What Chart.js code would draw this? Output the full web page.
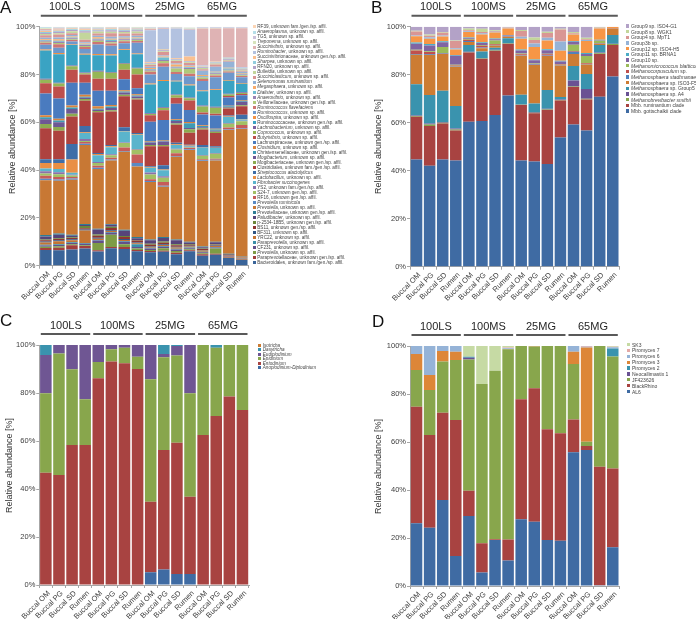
<!DOCTYPE html>
<html><head><meta charset="utf-8">
<script src="https://cdn.jsdelivr.net/npm/chart.js@4.4.1/dist/chart.umd.min.js"></script>
<style>
html,body{margin:0;padding:0;background:#fff;width:696px;height:619px;overflow:hidden;font-family:"Liberation Sans",Arial,sans-serif;position:relative;}
canvas{position:absolute;left:0;top:0;pointer-events:none;}
.t{position:absolute;white-space:nowrap;color:#222;}
.li{position:absolute;white-space:nowrap;color:#444;}
</style></head><body>
<script>
// ---------- shared categories ----------
const sampleLabels = ['Buccal OM','Buccal PG','Buccal SD','Rumen','Buccal OM','Buccal PG','Buccal SD','Rumen','Buccal OM','Buccal PG','Buccal SD','Rumen','Buccal OM','Buccal PG','Buccal SD','Rumen'];
const groupLabels = ['100LS','100MS','25MG','65MG'];
const yTickValues = [0,20,40,60,80,100];

// ---------- Panel A: bacteria (series listed bottom -> top of stack) ----------
const bacteriaNames = [
'Bacteroidales, unknown fam./gen./sp. affil.','Paraprevotellaceae, unknown gen./sp. affil.','Prevotella, unknown sp. affil.','CF231, unknown sp. affil.','Paraprevotella, unknown sp. affil.','YRC22, unknown sp. affil.',
'BF311, unknown sp. affil.','BS11, unknown gen./sp. affil.','p-2534-18B5, unknown gen./sp. affil.','Paludibacter, unknown sp. affil.','Prevotellaceae, unknown gen./sp. affil.','Prevotella, unknown sp. affil.',
'Prevotella ruminicola','RF16, unknown gen./sp. affil.','S24-7, unknown gen./sp. affil.','YS2, unknown fam./gen./sp. affil.','Fibrobacter succinogenes','Lactobacillus, unknown sp. affil.',
'Streptococcus alactolyticus','Clostridiales, unknown fam./gen./sp. affil.','Mogibacteriaceae, unknown gen./sp. affil.','Mogibacterium, unknown sp. affil.','Christensenellaceae, unknown gen./sp. affil.','Clostridium, unknown sp. affil.',
'Lachnospiraceae, unknown gen./sp. affil.','Butyrivibrio, unknown sp. affil.','Coprococcus, unknown sp. affil.','Lachnobacterium, unknown sp. affil.','Ruminococcaceae, unknown gen./sp. affil.','Oscillospira, unknown sp. affil.',
'Ruminococcus, unknown sp. affil.','Ruminococcus flavefaciens','Veillonellaceae, unknown gen./sp. affil.','Anaerovibrio, unknown sp. affil.','Dialister, unknown sp. affil.','Megasphaera, unknown sp. affil.',
'Selenomonas ruminantium','Succiniclasticum, unknown sp. affil.','Bulleidia, unknown sp. affil.','RFN20, unknown sp. affil.','Sharpea, unknown sp. affil.','Succinivibrionaceae, unknown gen./sp. affil.',
'Ruminobacter, unknown sp. affil.','Succinivibrio, unknown sp. affil.','Treponema, unknown sp. affil.','TG5, unknown sp. affil.','Anaeroplasma, unknown sp. affil.','RF39, unknown fam./gen./sp. affil.'];
const bacteriaValues = [
[6.6,6.5,6.8,7.2,5.9,7.3,7.0,6.0,5.6,5.8,4.8,6.0,4.2,4.6,3.2,2.4],
[0.8,1.0,1.8,1.0,0.6,0.5,0.8,0.6,0.5,0.5,0.6,0.5,0.6,0.4,0.2,0.2],
[0.5,0.6,0.4,0.4,3.0,5.2,1.2,0.6,0.5,1.0,0.8,0.4,0.4,2.2,0.2,0.2],
[0.6,0.6,0.5,0.6,1.0,0.8,1.0,0.6,0.6,0.6,0.6,0.4,0.4,0.4,0.2,0.1],
[0.3,0.3,0.3,0.3,0.3,0.3,0.3,1.2,0.3,0.3,0.3,0.3,0.2,0.2,0.1,0.1],
[0.9,1.2,0.9,5.2,0.5,0.4,0.5,0.4,0.4,0.5,0.5,0.4,0.6,0.4,0.3,0.4],
[0.4,0.4,0.4,0.4,0.4,0.3,0.4,0.3,0.3,0.3,0.3,0.3,0.2,0.2,0.1,0.1],
[0.6,0.6,0.5,0.6,0.8,1.0,0.8,0.8,0.6,0.6,0.7,0.5,0.4,0.4,0.2,0.2],
[0.3,0.3,0.3,0.9,0.6,0.5,0.4,0.3,0.4,0.5,0.4,0.3,0.2,0.2,0.1,0.1],
[1.2,1.4,0.6,0.4,2.0,0.8,2.2,0.7,1.4,1.5,1.6,0.6,0.5,0.8,0.3,0.1],
[0.6,0.6,0.5,0.5,0.4,0.4,0.4,0.5,0.4,0.4,0.4,0.3,0.3,0.2,0.1,0.1],
[23.0,22.0,23.0,33.0,25.0,26.5,32.7,29.5,24.0,21.0,34.6,38.4,35.8,34.0,51.8,53.2],
[0.6,0.6,0.5,0.5,0.5,0.4,0.3,1.5,0.4,0.5,0.3,0.3,0.3,0.3,0.2,0.2],
[1.2,1.0,0.6,0.8,0.8,0.8,1.5,3.5,0.8,1.5,1.2,0.5,0.4,0.5,0.8,1.5],
[1.0,1.2,0.6,0.4,1.2,1.0,1.8,2.0,2.0,1.8,1.5,0.3,1.5,2.0,1.6,1.5],
[0.9,0.8,0.4,0.8,0.4,0.4,0.3,0.3,0.8,0.6,0.3,0.3,0.3,0.4,0.3,0.3],
[1.2,1.4,0.8,2.5,2.8,3.0,4.5,6.0,2.0,2.5,1.6,0.3,3.0,2.0,2.5,0.5],
[2.3,2.5,5.5,0.3,0.5,0.4,0.3,0.3,0.3,0.3,0.3,0.2,0.2,0.2,0.2,0.2],
[1.5,1.5,6.5,2.7,0.5,0.5,1.5,0.4,0.3,1.8,0.6,0.3,1.0,0.6,0.4,1.8],
[13.0,12.0,11.5,10.5,17.0,14.0,13.0,14.0,8.4,8.0,7.6,5.0,6.5,5.5,3.0,3.5],
[1.8,1.5,1.2,0.8,0.5,0.5,0.6,0.5,0.5,0.5,0.5,1.5,0.5,0.5,0.3,0.4],
[2.0,2.0,2.0,0.5,0.5,1.0,1.0,0.8,1.0,1.5,1.0,0.5,0.4,0.5,0.3,1.5],
[0.8,0.8,0.6,0.4,0.5,0.6,0.4,0.4,0.4,0.3,0.5,2.0,0.6,0.5,0.3,0.4],
[0.9,0.7,0.8,0.8,1.0,0.6,0.5,0.5,0.3,0.3,0.3,0.5,0.3,0.3,0.2,0.3],
[9.0,8.5,9.5,5.0,6.5,6.0,4.6,2.5,8.0,8.4,6.5,5.0,4.5,5.5,3.5,2.0],
[4.3,5.0,5.5,3.5,5.0,5.0,4.0,5.8,2.8,4.0,2.5,4.0,0.8,0.8,0.6,0.5],
[1.5,1.2,1.5,0.5,3.0,2.5,2.5,2.5,0.5,1.0,1.0,1.0,2.5,2.5,0.6,0.5],
[0.4,0.3,0.3,0.3,0.4,0.3,0.3,0.3,0.3,0.3,0.3,0.3,0.4,0.4,0.3,0.3],
[11.8,12.0,8.5,7.5,6.5,7.0,5.5,5.7,12.0,11.0,5.5,5.0,6.0,7.0,5.5,3.5],
[0.5,0.5,0.3,0.4,0.5,0.5,0.3,0.3,0.4,0.4,0.3,0.4,0.3,0.3,0.3,0.3],
[2.0,2.2,1.2,2.0,4.0,3.5,2.5,4.5,3.8,5.5,2.8,3.5,4.0,5.0,3.0,2.5],
[0.8,1.5,0.6,0.8,1.0,1.0,0.8,0.7,1.2,1.5,0.8,1.0,0.8,0.8,0.6,0.5],
[0.4,0.5,0.4,0.4,0.5,0.5,0.4,0.4,0.4,1.0,1.5,2.0,0.6,0.5,0.4,0.3],
[0.4,0.5,0.4,0.4,0.5,0.5,0.4,0.4,0.4,0.4,0.4,0.4,0.4,0.4,0.3,0.3],
[0.3,0.4,0.3,0.3,0.4,0.5,0.3,0.3,0.3,1.0,0.3,0.3,0.3,0.3,0.5,0.3],
[0.4,0.6,0.4,0.4,0.6,0.5,0.4,0.4,0.4,0.4,1.0,0.4,0.4,0.4,0.3,0.3],
[0.6,0.8,0.6,0.5,0.6,0.8,0.6,0.7,0.5,0.4,0.4,0.4,1.8,2.0,2.5,0.6],
[1.0,1.2,0.8,1.0,1.0,1.5,1.2,1.0,0.8,1.5,1.0,1.0,0.6,1.0,0.5,0.4],
[0.5,0.6,0.8,3.0,0.8,0.6,0.6,0.8,0.3,0.3,0.4,0.3,0.5,0.4,0.3,0.4],
[0.5,0.6,0.5,0.6,0.4,0.6,0.5,0.5,0.3,0.4,0.3,0.3,0.3,0.3,0.3,0.3],
[0.4,0.4,0.3,0.4,0.3,0.4,0.4,0.3,0.2,0.3,0.2,0.3,0.2,0.2,0.3,0.2],
[0.5,0.5,0.3,0.4,0.3,0.3,0.4,0.3,0.3,0.3,0.3,1.8,0.3,0.3,0.3,0.2],
[0.3,0.2,0.1,0.2,0.2,0.2,0.2,0.2,13.4,8.3,12.4,11.2,0.3,0.3,0.3,0.3],
[0.4,0.2,0.2,0.3,0.2,0.2,0.2,0.2,0.6,0.3,0.2,0.3,15.4,13.5,12.0,16.3],
[0.3,0.2,0.1,0.2,0.2,0.1,0.1,0.2,0.3,0.2,0.2,0.2,0.3,0.3,0.2,0.2],
[0.2,0.2,0.1,0.1,0.1,0.1,0.2,0.1,0.2,0.2,0.2,0.2,0.2,0.2,0.2,0.2],
[0.3,0.2,0.2,0.2,0.2,0.1,0.1,0.1,0.2,0.2,0.1,0.2,0.2,0.2,0.2,0.2],
[0.2,0.2,0.1,0.1,0.1,0.1,0.1,0.1,0.2,0.1,0.1,0.1,0.1,0.1,0.1,0.1]];
const bacteriaColors = [
'#3A6499','#A23F3D','#7E9C45','#63508A','#3A8FA8','#C47432',
'#2F5585','#8E3432','#6B873A','#564479','#2F7D94','#C87834',
'#5A8AC4','#C65C59','#A2C065','#8B71AA','#5AB4CC','#E98F45',
'#3F6EA8','#AE423F','#8CAB50','#6E5894','#3F9BB4','#DB843C',
'#4A7BBF','#BE4F4C','#96B656','#7A60A0','#3AA3C3','#F39243',
'#6E98CC','#CE7573','#AFC97A','#9983B5','#6FBDD1','#F9AB6B',
'#95B3D7','#D99694','#C3D69B','#B3A2C7','#93CDDD','#FAC090',
'#B3C2E0','#DFB3B4','#D7E4BD','#CCC1DA','#B7DEE8','#FCD5B5'];

// ---------- Panel B: methanogens ----------
const archaeaNames = ['Mbb. gottschalkii clade','Mbb. ruminantium clade','Methanobrevibacter smithii','Methanosphaera sp. A4','Methanosphaera sp. Group5','Methanosphaera sp. ISO3-F5','Methanosphaera stadtmanae','Methanocorpusculum sp.','Methanomicrococcus blatticola','Group10 sp.','Group11 sp. BRNA1','Group12 sp. ISO4-H5','Group3b sp.','Group4 sp. MpT1','Group8 sp. WGK1','Group9 sp. ISO4-G1'];
const archaeaValues = [
[44.7,42.1,44.7,44.2,60.4,60.7,63.2,71.3,44.2,43.8,42.8,53.8,59.3,56.7,70.8,79.2],
[17.8,16.5,15.0,12.5,28.8,25.8,26.7,21.5,23.2,20.1,22.5,15.4,15.6,13.0,17.8,13.2],
[0.3,0.6,0.3,0.5,0.2,0.2,0.2,0.2,0.1,0.2,0.2,0.3,0.2,0.3,0.3,0.4],
[0.2,0.5,0.3,0.4,0.2,0.3,0.3,0.2,0.1,0.4,0.3,0.2,2.5,4.0,0.3,0.1],
[13.0,11.8,13.0,9.4,2.8,2.7,0.8,2.0,4.0,3.5,7.8,1.0,6.0,6.3,3.2,3.6],
[12.3,16.7,15.3,16.3,1.2,1.3,1.0,0.5,16.3,16.0,14.2,13.1,5.0,4.0,0.4,2.8],
[0.3,0.3,0.2,0.2,0.4,0.3,0.2,0.1,0.2,0.2,0.2,0.2,1.0,0.2,0.1,0.0],
[1.5,1.0,0.2,0.3,0.6,0.8,0.3,0.2,0.4,0.3,0.5,0.3,0.3,0.3,0.2,0.1],
[0.3,0.3,2.5,0.3,0.3,0.3,1.6,0.1,0.3,0.2,0.2,0.2,2.6,3.0,1.0,0.0],
[2.5,2.4,2.0,3.8,0.3,0.8,0.5,0.2,1.3,1.3,1.5,1.0,1.2,0.8,0.3,0.1],
[0.5,0.6,0.4,0.3,0.3,0.3,0.3,0.2,0.4,0.3,0.4,0.3,0.3,0.4,0.2,0.0],
[2.6,2.2,2.0,2.3,2.3,3.3,2.5,2.8,4.5,5.2,3.6,4.2,2.7,5.0,4.6,0.4],
[0.3,0.6,0.4,0.5,0.3,0.5,0.3,0.1,0.8,1.5,1.2,3.8,0.3,0.5,0.2,0.0],
[1.7,0.6,1.2,3.0,0.4,0.5,0.3,0.2,2.4,1.5,2.0,5.0,0.3,0.3,0.2,0.1],
[0.3,0.6,0.3,0.3,0.8,1.3,0.3,0.1,0.4,1.0,0.5,0.3,0.5,0.6,0.2,0.0],
[1.7,3.2,2.2,5.7,0.7,0.9,1.5,0.3,1.4,4.5,2.1,0.9,2.2,4.6,0.2,0.0]];
const archaeaColors = ['#3F6BA3','#A84341','#88A64C','#6A5293','#3A93AE','#CC7C33','#4F81BD','#C0504D','#9BBB59','#8064A2','#4BACC6','#F79646','#95B3D7','#D99694','#C3D69B','#B3A2C7'];

// ---------- Panel C: ciliates ----------
const ciliateNames = ['Anoplodinium-Diplodinium','Entodinium','Epidinium','Eudiplodinium','Dasytricha','Isotricha'];
const ciliateValues = [
[0,0,0,0,0,0,0,0,5.3,6.5,4.6,4.6,0,0,0,0],
[46.8,45.8,58.3,58.3,86.1,93.1,92.4,90.0,29.4,49.8,54.7,32.2,62.5,70.4,78.5,72.9],
[33.1,50.7,31.6,19.1,6.8,5.1,6.5,5.1,51.0,38.6,36.3,43.1,37.5,28.5,21.5,27.1],
[15.9,3.5,10.1,22.6,7.1,1.8,1.1,4.9,14.3,1.3,4.0,20.1,0,0,0,0],
[4.2,0,0,0,0,0,0,0,0,3.8,0.4,0,0,1.1,0,0],
[0,0,0,0,0,0,0,0,0,0,0,0,0,0,0,0]];
const ciliateColors = ['#3F6BA3','#A84341','#88A64C','#6F5693','#3A93AE','#CC7C33'];

// ---------- Panel D: fungi ----------
const fungiNames = ['AL6','BlackRhino','JF423626','Neocallimastix 1','Piromyces 2','Piromyces 3','Piromyces 6','Piromyces 7','SK3'];
const fungiValues = [
[26.1,24.3,35.8,12.5,29.2,5.6,19.2,10.6,27.8,26.8,19.2,18.9,55.7,56.7,0.3,16.1],
[48.6,38.6,36.4,56.7,10.5,12.2,0.3,8.8,50.0,55.6,46.1,44.7,13.7,1.6,49.4,32.9],
[15.3,18.8,21.3,25.0,54.7,66.4,70.2,79.2,22.2,17.4,34.7,36.4,23.1,1.8,50.3,46.6],
[0,0,0,0,0.7,0,0,0,0,0,0,0,0,0,0,0],
[0,0,0,0,0.4,0,0,0,0,0,0,0,0,0,0,3.4],
[6.7,6.2,4.4,3.4,0,0,0,0.2,0,0.2,0,0,5.1,39.3,0,0],
[3.3,12.1,2.1,2.4,0,0,0,0.3,0,0,0,0,2.4,0.3,0,0.5],
[0,0,0,0,0,0,0,0.3,0,0,0,0,0,0.3,0,0.2],
[0,0,0,0,4.5,15.8,10.3,0.6,0,0,0,0,0,0,0,0.3]];
const fungiColors = ['#3F6BA3','#A84341','#88A64C','#6A5293','#3A93AE','#DD8638','#95B3D7','#E3A9A7','#C6DAA4'];

// ---------- rendering ----------
Chart.defaults.font.family = "'Liberation Sans', Arial, sans-serif";
const AXIS = '#a6a6a6', TICK = '#404040';

const groupPlugin = {
  id: 'groups',
  afterDraw(chart, args, opts) {
    const {ctx} = chart; const x = chart.scales.x;
    const slot = x.getPixelForValue(1) - x.getPixelForValue(0);
    ctx.save(); ctx.strokeStyle = '#595959'; ctx.lineWidth = 2;
    groupLabels.forEach((g, gi) => {
      const l = x.getPixelForValue(gi*4) - slot/2 + 1.5;
      const r = x.getPixelForValue(gi*4+3) + slot/2 - 1.5;
      ctx.beginPath(); ctx.moveTo(l, opts.lineY); ctx.lineTo(r, opts.lineY); ctx.stroke();
    });
    ctx.restore();
  }
};

function text(str, x, baseline, fs, align, extra) {
  const d = document.createElement('div');
  d.className = 't'; d.textContent = str;
  d.style.fontSize = fs + 'px'; d.style.lineHeight = fs + 'px';
  d.style.top = Math.round(baseline - 0.8465*fs) + 'px';
  document.body.appendChild(d);
  if (extra) Object.assign(d.style, extra);
  if (align === 'center') d.style.left = Math.round(x - d.offsetWidth/2) + 'px';
  else d.style.left = x + 'px';
  return d;
}

function yTitle(cx, cy) {
  const d = document.createElement('div');
  d.className = 't'; d.textContent = 'Relative abundance [%]';
  Object.assign(d.style, {fontSize:'9px', lineHeight:'10px', color:'#333', left:'0px', top:'0px'});
  document.body.appendChild(d);
  const w = d.offsetWidth, h = d.offsetHeight;
  Object.assign(d.style, {left: Math.round(cx - h/2)+'px', top: Math.round(cy + w/2)+'px', transformOrigin:'0 0', transform:'rotate(-90deg)'});
}

function styledName(name, italicFn) {
  const it = italicFn(name);
  if (!it) return name;
  if (it === name) return '<i>' + name + '</i>';
  return '<i>' + it + '</i>' + name.slice(it.length);
}

function legend(names, colors, x, y0, pitch, fs, box, italicFn) {
  const n = names.length, lh = fs * 1.2;
  for (let k = 0; k < n; k++) {
    const i = n - 1 - k;
    const cy = y0 + k * pitch;
    const d = document.createElement('div');
    d.className = 'li';
    Object.assign(d.style, {left: x+'px', top: (cy - lh/2)+'px', fontSize: fs+'px', lineHeight: lh+'px', height: lh+'px'});
    const m = document.createElement('span');
    Object.assign(m.style, {position:'absolute', left:'0px', top: ((lh-box)/2)+'px', width: box+'px', height: box+'px', background: colors[i]});
    const t = document.createElement('span');
    t.style.position = 'absolute'; t.style.left = (box + 1.8) + 'px'; t.style.top = '0px';
    t.innerHTML = styledName(names[i], italicFn);
    d.appendChild(m); d.appendChild(t);
    document.body.appendChild(d);
  }
}

function panel(cfg) {
  const canvas = document.createElement('canvas');
  canvas.width = 696; canvas.height = 619;
  document.body.appendChild(canvas);
  const XH = 40, YW = 38;
  const chart = new Chart(canvas, {
    type: 'bar',
    data: { labels: sampleLabels, datasets: cfg.names.map((n, i) => ({
      label: n, data: cfg.values[i], backgroundColor: cfg.colors[i], borderWidth: 0,
      barPercentage: 0.88, categoryPercentage: 1 })) },
    options: {
      responsive: false, animation: false, events: [],
      layout: { padding: { left: cfg.area.left - YW, top: cfg.area.top, right: 696 - cfg.area.right, bottom: 619 - cfg.area.bottom - XH } },
      plugins: { legend: {display: false}, tooltip: {enabled: false}, groups: { lineY: cfg.area.top - 11 } },
      scales: {
        x: { stacked: true, afterFit: s => { s.height = XH; },
             grid: { display: true, drawOnChartArea: false, drawTicks: true, tickLength: 3, color: AXIS },
             border: { display: true, color: AXIS, width: 1 },
             ticks: { autoSkip: false, minRotation: 45, maxRotation: 45, padding: 1, labelOffset: 3, color: TICK, font: {size: 7.5} } },
        y: { stacked: true, min: 0, max: 100, afterFit: s => { s.width = YW; },
             afterBuildTicks: s => { s.ticks = yTickValues.map(v => ({value: v})); },
             grid: { display: true, drawOnChartArea: false, drawTicks: true, tickLength: 3, color: AXIS },
             border: { display: true, color: AXIS, width: 1 },
             ticks: { padding: 1, color: TICK, font: {size: 7.5}, callback: v => v + '%' } }
      }
    },
    plugins: [groupPlugin]
  });
  const x = chart.scales.x;
  groupLabels.forEach((g, gi) => {
    const c = (x.getPixelForValue(gi*4) + x.getPixelForValue(gi*4+3)) / 2;
    text(g, c, cfg.area.top - 16, 11, 'center', {color:'#262626'});
  });
  text(cfg.letter, cfg.letterX, cfg.letterBase, 17, 'left', {color:'#111'});
  yTitle(cfg.titleX, (cfg.area.top + cfg.area.bottom) / 2);
  return chart;
}

const genusItalic = n => {
  if (n.indexOf(',') < 0) return /^[A-Z][a-z]+ [a-z]+$/.test(n) ? n : '';
  const g = n.split(',')[0];
  if (/aceae$|ales$|\d|^[A-Z]{2}/.test(g)) return '';
  return g;
};
const archaeaItalic = n => {
  if (/^Methano[a-z]+ [a-z]+$/.test(n) && !/ sp\./.test(n)) return n;
  if (/^Methanosphaera sp\./.test(n)) return 'Methanosphaera';
  if (/^Methanocorpusculum/.test(n)) return 'Methanocorpusculum';
  return '';
};

panel({names: bacteriaNames, values: bacteriaValues, colors: bacteriaColors,
  area: {left: 39.3, right: 248.3, top: 26.7, bottom: 265.7}, letter: 'A', letterX: 0, letterBase: 13.3, titleX: 12});
panel({names: archaeaNames, values: archaeaValues, colors: archaeaColors,
  area: {left: 410, right: 619.3, top: 26.7, bottom: 266.7}, letter: 'B', letterX: 371, letterBase: 13.3, titleX: 378});
panel({names: ciliateNames, values: ciliateValues, colors: ciliateColors,
  area: {left: 39.3, right: 249, top: 345, bottom: 585}, letter: 'C', letterX: 0, letterBase: 326.7, titleX: 8.5});
panel({names: fungiNames, values: fungiValues, colors: fungiColors,
  area: {left: 410, right: 619.3, top: 346, bottom: 586}, letter: 'D', letterX: 372, letterBase: 327.3, titleX: 378});

legend(bacteriaNames, bacteriaColors, 252.5, 27, 5.02, 4.6, 3, genusItalic);
legend(archaeaNames, archaeaColors, 626, 26, 5.67, 5, 3.2, archaeaItalic);
legend(ciliateNames, ciliateColors, 258, 345.5, 4.5, 4.6, 3, n => n);
legend(fungiNames, fungiColors, 627, 344.5, 5.9, 5, 3.2, n => '');
</script>
</body></html>
